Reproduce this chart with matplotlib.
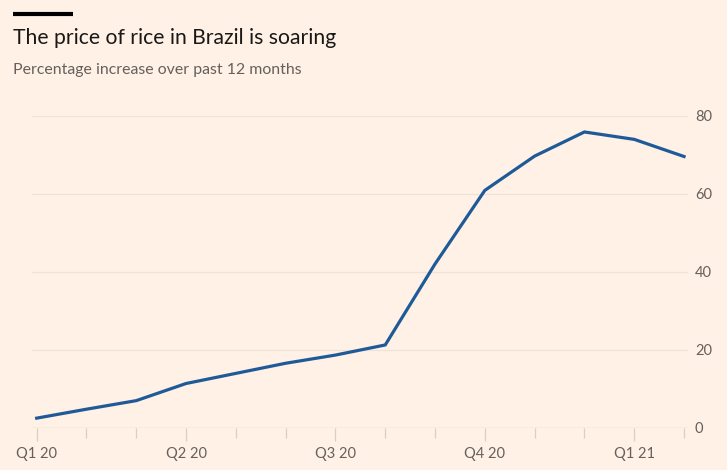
import matplotlib.pyplot as plt
import numpy as np

plt.rcParams['font.family'] = ['Lato', 'DejaVu Sans']

months = ['Jan 20', 'Feb 20', 'Mar 20', 'Apr 20', 'May 20', 'Jun 20', 'Jul 20',
          'Aug 20', 'Sep 20', 'Oct 20', 'Nov 20', 'Dec 20', 'Jan 21', 'Feb 21']
rice_increase = [2.4, 4.7, 6.9, 11.3, 13.9, 16.5, 18.6,
                 21.2, 42.0, 60.9, 69.7, 75.9, 74.0, 69.6]
quarter_pos = [0, 3, 6, 9, 12]
quarter_labels = ['Q1 20', 'Q2 20', 'Q3 20', 'Q4 20', 'Q1 21']
y_ticks = [0, 20, 40, 60, 80]

bg = '#FFF1E5'
grid_col = '#EEE3D7'
text_col = '#66605C'

fig = plt.figure(figsize=(7.27, 4.70), dpi=100, facecolor=bg)
ax = fig.add_axes([32 / 727, 1 - 427.5 / 470, (688 - 32) / 727, (427.5 - 116) / 470])
ax.set_facecolor(bg)

x = np.arange(len(months))
ax.plot(x, rice_increase, color='#1f5a98', lw=2.3, solid_joinstyle='miter', zorder=3)

ax.set_xlim(-0.094, 13.08)
ax.set_ylim(0, 80)

ax.set_yticks(y_ticks)
ax.yaxis.tick_right()
ax.tick_params(axis='y', length=0, pad=5, labelsize=10.5, labelcolor=text_col)
for t in y_ticks[1:]:
    ax.axhline(t, color=grid_col, lw=0.9, zorder=1)
ax.axhline(0, color='#D9CFC3', lw=1.0, zorder=2)

ax.set_xticks(quarter_pos)
ax.set_xticklabels(quarter_labels)
ax.set_xticks(x, minor=True)
ax.tick_params(axis='x', which='major', length=9, width=0.9, color='#D9CFC3',
               pad=5, labelsize=10.5, labelcolor=text_col)
ax.tick_params(axis='x', which='minor', length=7, width=0.9, color='#D9CFC3')

for s in ax.spines.values():
    s.set_visible(False)

# FT style header
fig.add_artist(plt.Line2D([13 / 727, 73 / 727], [1 - 14 / 470, 1 - 14 / 470],
                          color='black', lw=3, solid_capstyle='butt'))
fig.text(13 / 727, 1 - 44 / 470, 'The price of rice in Brazil is soaring',
         fontsize=15.2, color='#1a1817', va='baseline')
fig.text(13 / 727, 1 - 74 / 470, 'Percentage increase over past 12 months',
         fontsize=11.4, color=text_col, va='baseline')

fig.savefig('out.png', dpi=100, facecolor=bg)
